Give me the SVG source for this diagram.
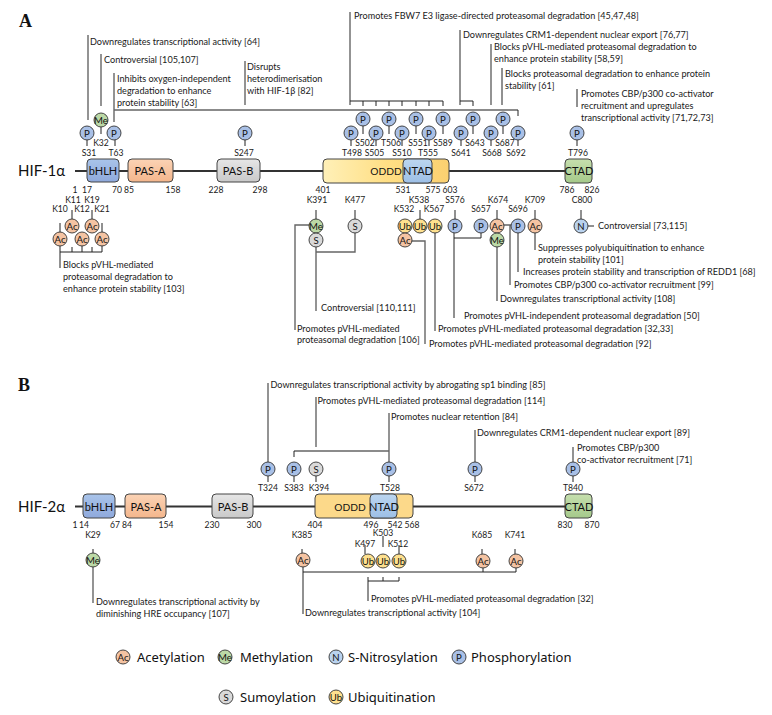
<svg xmlns="http://www.w3.org/2000/svg" width="772" height="715" viewBox="0 0 772 715">
<style>
text{font-family:"Lato","Liberation Sans",sans-serif;fill:#1a1a1a}
.t{font-size:9.1px}
.n{font-size:8.6px;text-anchor:middle}
.h{font-family:"Liberation Serif",serif;font-size:18px;font-weight:bold;fill:#111}
.p{font-size:15px;fill:#111}
.d{font-size:11px;text-anchor:middle;fill:#111}
.o{font-size:10.2px}
.b{font-size:9.6px;text-anchor:middle;fill:#111}
.l{font-family:"Noto Sans","Liberation Sans",sans-serif;font-size:13px;fill:#111}
.c{fill:none;stroke:#222;stroke-width:1}
.g{fill:none;stroke:#666;stroke-width:1.4}
.bb{fill:none;stroke:#333;stroke-width:1.8}
circle{stroke:#333;stroke-width:.9}
.P{fill:#a9c0e6}.A{fill:#f4c3a2}.M{fill:#bcd9a6}.S{fill:#d9d9d9}.U{fill:#fee08e}.N{fill:#b9d2ee}
rect{stroke:#444;stroke-width:1}
</style>
<defs>
<linearGradient id="gB" x1="0" y1="0" x2="0" y2="1"><stop offset="0" stop-color="#a9c4ea"/><stop offset="1" stop-color="#8fa9dc"/></linearGradient>
<linearGradient id="gO" x1="0" y1="0" x2="0" y2="1"><stop offset="0" stop-color="#fbd3b5"/><stop offset="1" stop-color="#f4b68c"/></linearGradient>
<linearGradient id="gG" x1="0" y1="0" x2="0" y2="1"><stop offset="0" stop-color="#e6e6e6"/><stop offset="1" stop-color="#c9c9c9"/></linearGradient>
<linearGradient id="gY" x1="0" y1="0" x2="1" y2="0"><stop offset="0" stop-color="#fff0b8"/><stop offset=".5" stop-color="#ffdf85"/><stop offset="1" stop-color="#fbd070"/></linearGradient>
<linearGradient id="gN" x1="0" y1="0" x2="0" y2="1"><stop offset="0" stop-color="#bcd6f0"/><stop offset="1" stop-color="#9dbfe6"/></linearGradient>
<linearGradient id="gC" x1="0" y1="0" x2="0" y2="1"><stop offset="0" stop-color="#c6dfae"/><stop offset="1" stop-color="#a5c98a"/></linearGradient>
</defs>

<text class="h" x="19" y="27">A</text>
<text class="h" x="18" y="391">B</text>

<g id="connectors">
<path class="bb" d="M75 171H565"/>
<path class="bb" d="M75 506.5H565"/>
<path class="g" d="M88 35V120M101 54V106M114 73V122M114 110H518M245 61V105M350 12V105M460 30V105M491 44V105"/>
<path class="c" d="M518 110V116M87 139V146M101 126V134M115 139V146M245 139V146M502 68V105M577 89V107M350 101H443M363 101V106M376 101V106M389 101V106M402 101V106M416 101V106M429 101V106M443 101V106M460 101H473V106"/>
<path class="c" d="M351 139V146M363 125V134M376 139V146M389 125V134M402 139V146M416 125V134M429 139V146M443 125V134M461 139V146M473 125V134M491 139V146M503 125V134M518 139V146M577 139V146"/>
<path class="c" d="M72 210V219M92 210V219M60 223V233M102 223V233M60 245V268M60 252H102M72 247V252M82 245V252M92 247V252M102 245V252"/>
<path class="c" d="M316 210V220M355 210V220M420 210V220M455 210V220M497 210V220M535 210V220M581 210V220M587 226H594"/>
<path class="g" d="M310 225H295V330M316 246V311M316 252H355V232M411 241H425V344M435 232V331M510 225V285M503 225H512"/>
<path class="c" d="M454 232V318M454 238H481V232M497 246V301M518 232V272M535 232V250"/>
<path class="g" d="M268 383V462M316 397V447M389 413V462M294 451H389M475 430V462M573 447V462"/>
<path class="c" d="M294 451V457M268 476V482M294 476V482M316 476V482M389 476V482M475 476V482M573 476V482"/>
<path class="g" d="M93 566V603"/>
<path class="c" d="M93 549V554M302 549V554M383 536V547M365 545V554M399 545V554M482 549V554M515 549V554M303 566V614M303 572H516V567M483 572V567M368 577V601M368 581H399M383 577V581M399 577V581"/>
</g>

<g id="hif1a-label"><text class="p" x="18" y="176">HIF-1α</text></g>
<g id="a-bhlh"><rect x="87" y="159" width="32" height="23" rx="4" fill="url(#gB)"/><text class="d" x="103" y="175">bHLH</text></g>
<g id="a-pasa"><rect x="128" y="159" width="45" height="23" rx="4" fill="url(#gO)"/><text class="d" x="150" y="175">PAS-A</text></g>
<g id="a-pasb"><rect x="217" y="159" width="43" height="23" rx="4" fill="url(#gG)"/><text class="d" x="238" y="175">PAS-B</text></g>
<g id="a-oddd"><rect x="323" y="159" width="126" height="24" rx="4" fill="url(#gY)"/><text class="d o" x="386" y="175">ODDD</text></g>
<g id="a-ntad"><rect x="403" y="159" width="29" height="24" rx="4" fill="url(#gN)"/><text class="d" x="418" y="175">NTAD</text></g>
<g id="a-ctad"><rect x="565" y="159" width="27" height="24" rx="4" fill="url(#gC)"/><text class="d" x="579" y="175">CTAD</text></g>
<g id="a-numbers">
<text class="n" x="75" y="193">1</text><text class="n" x="87" y="193">17</text><text class="n" x="117" y="193">70</text><text class="n" x="129" y="193">85</text><text class="n" x="173" y="193">158</text><text class="n" x="216" y="193">228</text><text class="n" x="260" y="193">298</text><text class="n" x="323" y="193">401</text><text class="n" x="403" y="193">531</text><text class="n" x="433" y="193">575</text><text class="n" x="450" y="193">603</text><text class="n" x="567" y="193">786</text><text class="n" x="592" y="193">826</text>
</g>

<g id="a-top-sites">
<g id="S31"><circle class="P" cx="87" cy="133" r="7"/><text class="b" x="87" y="136.500">P</text><text class="n" x="89" y="155.500">S31</text></g>
<g id="K32"><circle class="M" cx="101" cy="120" r="7"/><text class="b" x="101" y="123.500">Me</text><text class="n" x="101" y="145.500">K32</text></g>
<g id="T63"><circle class="P" cx="114" cy="133" r="7"/><text class="b" x="114" y="136.500">P</text><text class="n" x="116" y="155.500">T63</text></g>
<g id="S247"><circle class="P" cx="245" cy="133" r="7"/><text class="b" x="245" y="136.500">P</text><text class="n" x="244" y="155.500">S247</text></g>
<g id="T498"><circle class="P" cx="351" cy="133" r="7"/><text class="b" x="351" y="136.500">P</text><text class="n" x="352" y="155.500">T498</text></g>
<g id="S502"><circle class="P" cx="363" cy="119" r="7"/><text class="b" x="363" y="122.500">P</text><text class="n" x="365" y="145.500">S502</text></g>
<g id="S505"><circle class="P" cx="376" cy="133" r="7"/><text class="b" x="376" y="136.500">P</text><text class="n" x="374.500" y="155.500">S505</text></g>
<g id="T506"><circle class="P" cx="389" cy="119" r="7"/><text class="b" x="389" y="122.500">P</text><text class="n" x="391" y="145.500">T506</text></g>
<g id="S510"><circle class="P" cx="402" cy="133" r="7"/><text class="b" x="402" y="136.500">P</text><text class="n" x="402" y="155.500">S510</text></g>
<g id="S551"><circle class="P" cx="416" cy="119" r="7"/><text class="b" x="416" y="122.500">P</text><text class="n" x="418" y="145.500">S551</text></g>
<g id="T555"><circle class="P" cx="429" cy="133" r="7"/><text class="b" x="429" y="136.500">P</text><text class="n" x="428" y="155.500">T555</text></g>
<g id="S589"><circle class="P" cx="443" cy="119" r="7"/><text class="b" x="443" y="122.500">P</text><text class="n" x="443" y="145.500">S589</text></g>
<g id="S641"><circle class="P" cx="461" cy="133" r="7"/><text class="b" x="461" y="136.500">P</text><text class="n" x="461" y="155.500">S641</text></g>
<g id="S643"><circle class="P" cx="473" cy="119" r="7"/><text class="b" x="473" y="122.500">P</text><text class="n" x="475" y="145.500">S643</text></g>
<g id="S668"><circle class="P" cx="491" cy="133" r="7"/><text class="b" x="491" y="136.500">P</text><text class="n" x="492" y="155.500">S668</text></g>
<g id="S687"><circle class="P" cx="503" cy="119" r="7"/><text class="b" x="503" y="122.500">P</text><text class="n" x="505" y="145.500">S687</text></g>
<g id="S692"><circle class="P" cx="518" cy="133" r="7"/><text class="b" x="518" y="136.500">P</text><text class="n" x="516" y="155.500">S692</text></g>
<g id="T796"><circle class="P" cx="577" cy="133" r="7"/><text class="b" x="577" y="136.500">P</text><text class="n" x="578" y="155.500">T796</text></g>
</g>

<g id="a-bottom-sites">
<g id="K10"><circle class="A" cx="60" cy="239" r="7"/><text class="b" x="60" y="242.500">Ac</text><text class="n" x="60" y="212">K10</text></g>
<g id="K11"><circle class="A" cx="72" cy="226" r="7"/><text class="b" x="72" y="229.500">Ac</text><text class="n" x="73" y="203">K11</text></g>
<g id="K12"><circle class="A" cx="82" cy="239" r="7"/><text class="b" x="82" y="242.500">Ac</text><text class="n" x="82" y="212">K12</text></g>
<g id="K19"><circle class="A" cx="92" cy="226" r="7"/><text class="b" x="92" y="229.500">Ac</text><text class="n" x="92" y="203">K19</text></g>
<g id="K21"><circle class="A" cx="102" cy="239" r="7"/><text class="b" x="102" y="242.500">Ac</text><text class="n" x="102" y="212">K21</text></g>
<g id="K391"><circle class="M" cx="316" cy="226" r="7"/><text class="b" x="316" y="229.500">Me</text><text class="n" x="317" y="203">K391</text></g>
<g id="K391s"><circle class="S" cx="316" cy="240" r="7"/><text class="b" x="316" y="243.500">S</text></g>
<g id="K477"><circle class="S" cx="355" cy="226" r="7"/><text class="b" x="355" y="229.500">S</text><text class="n" x="355" y="203">K477</text></g>
<g id="K532"><circle class="U" cx="405" cy="226" r="7"/><text class="b" x="405" y="229.500">Ub</text><text class="n" x="404" y="212">K532</text></g>
<g id="K532a"><circle class="A" cx="405" cy="240" r="7"/><text class="b" x="405" y="243.500">Ac</text></g>
<g id="K538"><circle class="U" cx="420" cy="226" r="7"/><text class="b" x="420" y="229.500">Ub</text><text class="n" x="419" y="203">K538</text></g>
<g id="K567"><circle class="U" cx="435" cy="226" r="7"/><text class="b" x="435" y="229.500">Ub</text><text class="n" x="434" y="212">K567</text></g>
<g id="S576"><circle class="P" cx="455" cy="226" r="7"/><text class="b" x="455" y="229.500">P</text><text class="n" x="455" y="203">S576</text></g>
<g id="S657"><circle class="P" cx="481" cy="226" r="7"/><text class="b" x="481" y="229.500">P</text><text class="n" x="481" y="212">S657</text></g>
<g id="K674"><circle class="A" cx="497" cy="226" r="7"/><text class="b" x="497" y="229.500">Ac</text><text class="n" x="498" y="203">K674</text></g>
<g id="K674m"><circle class="M" cx="497" cy="240" r="7"/><text class="b" x="497" y="243.500">Me</text></g>
<g id="S696"><circle class="P" cx="518" cy="226" r="7"/><text class="b" x="518" y="229.500">P</text><text class="n" x="518" y="212">S696</text></g>
<g id="K709"><circle class="A" cx="535" cy="226" r="7"/><text class="b" x="535" y="229.500">Ac</text><text class="n" x="535" y="203">K709</text></g>
<g id="C800"><circle class="N" cx="581" cy="226" r="7"/><text class="b" x="581" y="229.500">N</text><text class="n" x="582" y="203">C800</text></g>
</g>

<g id="a-annotations">
<text class="t" x="90" y="45">Downregulates transcriptional activity [64]</text>
<text class="t" x="104" y="63">Controversial [105,107]</text>
<text class="t" x="117" y="82">Inhibits oxygen-independent</text>
<text class="t" x="117" y="94">degradation to enhance</text>
<text class="t" x="117" y="106">protein stability [63]</text>
<text class="t" x="247" y="70">Disrupts</text>
<text class="t" x="247" y="82">heterodimerisation</text>
<text class="t" x="247" y="94">with HIF-1β [82]</text>
<text class="t" x="354" y="19">Promotes FBW7 E3 ligase-directed proteasomal degradation [45,47,48]</text>
<text class="t" x="463" y="38">Downregulates CRM1-dependent nuclear export [76,77]</text>
<text class="t" x="494" y="50">Blocks pVHL-mediated proteasomal degradation to</text>
<text class="t" x="494" y="62">enhance protein stability [58,59]</text>
<text class="t" x="505" y="77">Blocks proteasomal degradation to enhance protein</text>
<text class="t" x="505" y="89">stability [61]</text>
<text class="t" x="581" y="97">Promotes CBP/p300 co-activator</text>
<text class="t" x="581" y="109">recruitment and upregulates</text>
<text class="t" x="581" y="121">transcriptional activity [71,72,73]</text>
<text class="t" x="63" y="268">Blocks pVHL-mediated</text>
<text class="t" x="63" y="280">proteasomal degradation to</text>
<text class="t" x="63" y="292">enhance protein stability [103]</text>
<text class="t" x="321" y="311">Controversial [110,111]</text>
<text class="t" x="297" y="332">Promotes pVHL-mediated</text>
<text class="t" x="297" y="343">proteasomal degradation [106]</text>
<text class="t" x="429" y="347">Promotes pVHL-mediated proteasomal degradation [92]</text>
<text class="t" x="438" y="332">Promotes pVHL-mediated proteasomal degradation [32,33]</text>
<text class="t" x="464" y="319">Promotes pVHL-independent proteasomal degradation [50]</text>
<text class="t" x="500" y="302">Downregulates transcriptional activity [108]</text>
<text class="t" x="514" y="288">Promotes CBP/p300 co-activator recruitment [99]</text>
<text class="t" x="523" y="275">Increases protein stability and transcription of REDD1 [68]</text>
<text class="t" x="538" y="251">Suppresses polyubiquitination to enhance</text>
<text class="t" x="538" y="263">protein stability [101]</text>
<text class="t" x="598" y="229">Controversial [73,115]</text>
</g>

<g id="hif2a-label"><text class="p" x="18" y="512">HIF-2α</text></g>
<g id="b-bhlh"><rect x="83" y="494" width="32" height="24" rx="4" fill="url(#gB)"/><text class="d" x="99" y="511">bHLH</text></g>
<g id="b-pasa"><rect x="125" y="494" width="41" height="24" rx="4" fill="url(#gO)"/><text class="d" x="146" y="511">PAS-A</text></g>
<g id="b-pasb"><rect x="212" y="494" width="41" height="24" rx="4" fill="url(#gG)"/><text class="d" x="233" y="511">PAS-B</text></g>
<g id="b-oddd"><rect x="315" y="494" width="98" height="24" rx="4" fill="#fcd98a"/><text class="d o" x="350" y="511">ODDD</text></g>
<g id="b-ntad"><rect x="370" y="494" width="27" height="24" rx="4" fill="url(#gN)"/><text class="d" x="384" y="511">NTAD</text></g>
<g id="b-ctad"><rect x="565" y="494" width="27" height="24" rx="4" fill="url(#gC)"/><text class="d" x="579" y="511">CTAD</text></g>
<g id="b-numbers">
<text class="n" x="75" y="528">1</text><text class="n" x="84" y="528">14</text><text class="n" x="115" y="528">67</text><text class="n" x="127" y="528">84</text><text class="n" x="166" y="528">154</text><text class="n" x="212" y="528">230</text><text class="n" x="254" y="528">300</text><text class="n" x="315" y="528">404</text><text class="n" x="371" y="528">496</text><text class="n" x="395" y="528">542</text><text class="n" x="412" y="528">568</text><text class="n" x="565" y="528">830</text><text class="n" x="592" y="528">870</text>
</g>

<g id="b-top-sites">
<g id="T324"><circle class="P" cx="268" cy="469" r="7"/><text class="b" x="268" y="472.500">P</text><text class="n" x="268" y="491">T324</text></g>
<g id="S383"><circle class="P" cx="294" cy="469" r="7"/><text class="b" x="294" y="472.500">P</text><text class="n" x="294" y="491">S383</text></g>
<g id="K394"><circle class="S" cx="316" cy="469" r="7"/><text class="b" x="316" y="472.500">S</text><text class="n" x="319" y="491">K394</text></g>
<g id="T528"><circle class="P" cx="389" cy="469" r="7"/><text class="b" x="389" y="472.500">P</text><text class="n" x="390" y="491">T528</text></g>
<g id="S672"><circle class="P" cx="475" cy="469" r="7"/><text class="b" x="475" y="472.500">P</text><text class="n" x="474" y="491">S672</text></g>
<g id="T840"><circle class="P" cx="573" cy="469" r="7"/><text class="b" x="573" y="472.500">P</text><text class="n" x="573" y="491">T840</text></g>
</g>

<g id="b-bottom-sites">
<g id="K29"><circle class="M" cx="93" cy="560" r="7"/><text class="b" x="93" y="563.500">Me</text><text class="n" x="93" y="538">K29</text></g>
<g id="K385"><circle class="A" cx="303" cy="560" r="7"/><text class="b" x="303" y="563.500">Ac</text><text class="n" x="302" y="538">K385</text></g>
<g id="K497"><circle class="U" cx="368" cy="561" r="7"/><text class="b" x="368" y="564.500">Ub</text><text class="n" x="365" y="547">K497</text></g>
<g id="K503"><circle class="U" cx="383" cy="561" r="7"/><text class="b" x="383" y="564.500">Ub</text><text class="n" x="383" y="536">K503</text></g>
<g id="K512"><circle class="U" cx="399" cy="561" r="7"/><text class="b" x="399" y="564.500">Ub</text><text class="n" x="398" y="547">K512</text></g>
<g id="K685"><circle class="A" cx="483" cy="561" r="7"/><text class="b" x="483" y="564.500">Ac</text><text class="n" x="482" y="538">K685</text></g>
<g id="K741"><circle class="A" cx="516" cy="561" r="7"/><text class="b" x="516" y="564.500">Ac</text><text class="n" x="515" y="538">K741</text></g>
</g>

<g id="b-annotations">
<text class="t" x="270.500" y="388">Downregulates transcriptional activity by abrogating sp1 binding [85]</text>
<text class="t" x="317.500" y="404">Promotes pVHL-mediated proteasomal degradation [114]</text>
<text class="t" x="391" y="420">Promotes nuclear retention [84]</text>
<text class="t" x="477" y="436">Downregulates CRM1-dependent nuclear export [89]</text>
<text class="t" x="577" y="451">Promotes CBP/p300</text>
<text class="t" x="577" y="463">co-activator recruitment [71]</text>
<text class="t" x="96" y="605">Downregulates transcriptional activity by</text>
<text class="t" x="96" y="617">diminishing HRE occupancy [107]</text>
<text class="t" x="305" y="616">Downregulates transcriptional activity [104]</text>
<text class="t" x="371" y="602">Promotes pVHL-mediated proteasomal degradation [32]</text>
</g>

<g id="legend">
<g id="leg-ac"><circle class="A" cx="123" cy="657" r="7"/><text class="b" x="123" y="660.500">Ac</text><text class="l" x="137" y="662">Acetylation</text></g>
<g id="leg-me"><circle class="M" cx="225" cy="657" r="7"/><text class="b" x="225" y="660.500">Me</text><text class="l" x="240" y="662">Methylation</text></g>
<g id="leg-n"><circle class="N" cx="336" cy="657" r="7"/><text class="b" x="336" y="660.500">N</text><text class="l" x="348" y="662">S-Nitrosylation</text></g>
<g id="leg-p"><circle class="P" cx="459" cy="657" r="7"/><text class="b" x="459" y="660.500">P</text><text class="l" x="471" y="662">Phosphorylation</text></g>
<g id="leg-s"><circle class="S" cx="226" cy="697" r="7"/><text class="b" x="226" y="700.500">S</text><text class="l" x="240" y="702">Sumoylation</text></g>
<g id="leg-ub"><circle class="U" cx="336" cy="697" r="7"/><text class="b" x="336" y="700.500">Ub</text><text class="l" x="348" y="702">Ubiquitination</text></g>
</g>
</svg>
